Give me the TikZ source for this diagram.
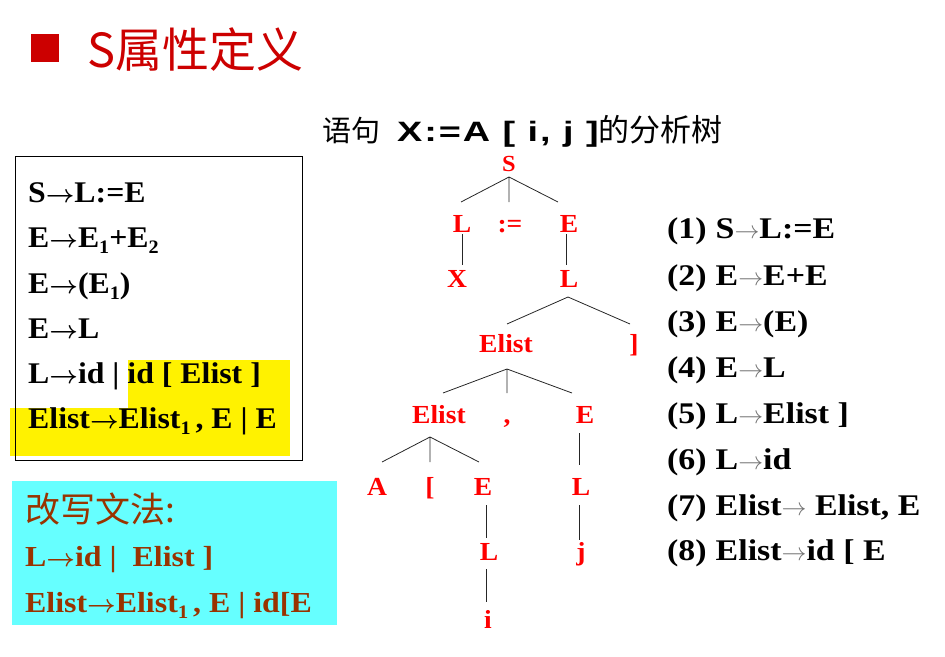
\documentclass[tikz,border=0pt]{standalone}
\usepackage{fontspec}
\setmainfont{Liberation Serif}[FakeStretch=1.06]
\newfontfamily\tnrw{Liberation Serif}[FakeStretch=1.1]
\newfontfamily\tnrx{Liberation Serif}[FakeStretch=1.13]
\newfontfamily\cjk{Noto Sans CJK SC}
\newfontfamily\arialw{Liberation Sans}[FakeStretch=1.35, LetterSpace=7]
\definecolor{titlered}{HTML}{CC0000}
\definecolor{treered}{HTML}{FF0000}
\definecolor{brownc}{HTML}{993300}
\definecolor{cyanbg}{HTML}{66FFFF}
\newcommand{\fsz}[1]{\fontsize{#1}{#1}\selectfont}
\newcommand{\arr}{{\boldmath$\rightarrow$}}
\newcommand{\tarr}{{\color{black!55}$\rightarrow$}}
\newcommand{\sbs}[1]{\raisebox{-0.22em}{\fontsize{19}{19}\selectfont #1}}
\newcommand{\gap}{\hspace{9pt}}
\tikzset{
  lhs/.style={anchor=base west, inner sep=0, font=\bfseries\fsz{30}},
  cyt/.style={anchor=base west, inner sep=0, font=\tnrw\bfseries\fsz{29}, text=brownc},
  rls/.style={anchor=base west, inner sep=0, font=\tnrx\bfseries\fsz{30}},
  tn/.style={anchor=base, inner sep=0, text=treered, font=\bfseries\fsz{26}},
  edge/.style={draw=black!85, line width=0.8pt}
}
\begin{document}
\begin{tikzpicture}[x=1pt,y=-1pt]
\useasboundingbox (0,0) rectangle (945,656);
% title
\fill[titlered] (31,34) rectangle (59,62);
\node[anchor=base west, inner sep=0, text=titlered, font=\cjk\fsz{47}] (title) at (87,67) {S属性定义};
% left box
\fill[yellow] (128,360) rectangle (290,408);
\fill[yellow] (10,408) rectangle (290,456);
\draw[black, line width=0.8pt] (15,156) rectangle (302,460);
\node[lhs] (g1) at (28,202) {S\arr L:=E};
\node[lhs] (g2) at (28,247) {E\arr E\sbs{1}+E\sbs{2}};
\node[lhs] (g3) at (28,293) {E\arr(E\sbs{1})};
\node[lhs] (g4) at (28,338) {E\arr L};
\node[lhs] (g5) at (28,383) {L\arr id | id [ Elist ]};
\node[lhs] (g6) at (28,428) {Elist\arr Elist\sbs{1}\,, E | E};
% cyan box
\fill[cyanbg] (12,481) rectangle (337,625);
\node[cyt, font=\cjk\fsz{35}] (c0) at (25,522) {改写文法:};
\node[cyt] (c1) at (25,566) {L\arr id |\ \ Elist ]};
\node[cyt] (c2) at (25,612) {Elist\arr Elist\sbs{1}\,, E | id[E};
% heading
\node[anchor=base west, inner sep=0] (head) at (322,141)
  {{\cjk\fsz{29}语句}\hspace{17pt}{\arialw\bfseries\fsz{28}X:=A [ i, j ]}{\cjk\fsz{31}的分析树}};
% tree nodes
\node[tn, font=\bfseries\fsz{23}] (S) at (509,171) {S};
\node[tn] (L1) at (462,232) {L};
\node[tn] (as) at (510,232) {:=};
\node[tn] (E1) at (569,232) {E};
\node[tn] (X) at (457,287) {X};
\node[tn] (L2) at (569,287) {L};
\node[tn] (El1) at (506,352) {Elist};
\node[tn] (rb) at (634,352) {]};
\node[tn] (El2) at (439,423) {Elist};
\node[tn] (cm) at (507,423) {,};
\node[tn] (E2) at (585,423) {E};
\node[tn] (A) at (377,495) {A};
\node[tn] (lb) at (430,495) {[};
\node[tn] (E3) at (483,495) {E};
\node[tn] (L3) at (581,495) {L};
\node[tn] (L4) at (489,560) {L};
\node[tn] (j) at (581,560) {j};
\node[tn] (i) at (488,628) {i};
% tree coordinates
\coordinate (Sa) at (509,177);
\coordinate (Sl) at (461,202);
\coordinate (Sm) at (509,202);
\coordinate (Sr) at (558,202);
\coordinate (L1a) at (462,234);
\coordinate (L1b) at (462,265);
\coordinate (E1a) at (566,234);
\coordinate (E1b) at (566,265);
\coordinate (L2a) at (568,297);
\coordinate (L2l) at (507,324);
\coordinate (L2r) at (630,324);
\coordinate (El1a) at (507,369);
\coordinate (El1l) at (443,393);
\coordinate (El1m) at (507,393);
\coordinate (El1r) at (572,393);
\coordinate (El2a) at (430,437);
\coordinate (El2l) at (382,462);
\coordinate (El2m) at (430,462);
\coordinate (El2r) at (479,462);
\coordinate (E3a) at (486,505);
\coordinate (E3b) at (486,538);
\coordinate (L4a) at (486,569);
\coordinate (L4b) at (486,602);
\coordinate (E2a) at (579,433);
\coordinate (E2b) at (579,465);
\coordinate (L3a) at (579,505);
\coordinate (L3b) at (579,540);
\draw[edge] (Sl) -- (Sa) -- (Sr) (Sa) -- (Sm);
\draw[edge] (L1a) -- (L1b);
\draw[edge] (E1a) -- (E1b);
\draw[edge] (L2l) -- (L2a) -- (L2r);
\draw[edge] (El1l) -- (El1a) -- (El1r) (El1a) -- (El1m);
\draw[edge] (El2l) -- (El2a) -- (El2r) (El2a) -- (El2m);
\draw[edge] (E3a) -- (E3b);
\draw[edge] (L4a) -- (L4b);
\draw[edge] (E2a) -- (E2b);
\draw[edge] (L3a) -- (L3b);
% right list
\node[rls] (r1) at (667,238) {(1)\gap S\tarr L:=E};
\node[rls] (r2) at (667,285) {(2)\gap E\tarr E+E};
\node[rls] (r3) at (667,331) {(3)\gap E\tarr(E)};
\node[rls] (r4) at (667,377) {(4)\gap E\tarr L};
\node[rls] (r5) at (667,423) {(5)\gap L\tarr Elist ]};
\node[rls] (r6) at (667,469) {(6)\gap L\tarr id};
\node[rls] (r7) at (667,515) {(7)\gap Elist\tarr\ Elist, E};
\node[rls] (r8) at (667,560) {(8)\gap Elist\tarr id [ E};
\end{tikzpicture}
\end{document}
